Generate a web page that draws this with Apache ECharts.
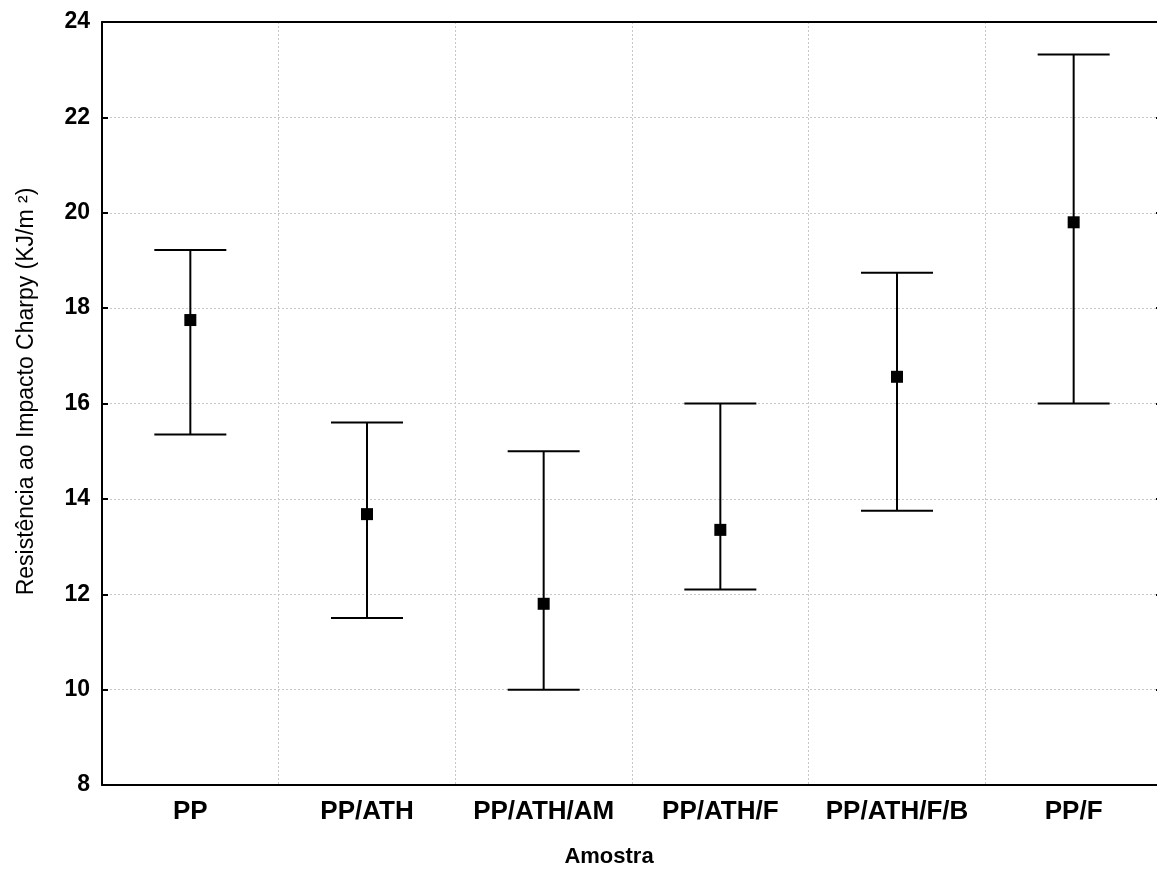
<!DOCTYPE html>
<html>
<head>
<meta charset="utf-8">
<script src="https://cdn.jsdelivr.net/npm/echarts@6/dist/echarts.min.js"></script>
<style>
  html, body { margin: 0; padding: 0; background: #fff; overflow: hidden; }
  #chart { width: 1162px; height: 873px; }
</style>
</head>
<body>
<div id="chart"></div>
<script>
var categories = ["PP", "PP/ATH", "PP/ATH/AM", "PP/ATH/F", "PP/ATH/F/B", "PP/F"];
var means = [17.75, 13.68, 11.8, 13.35, 16.56, 19.8];
var upper = [19.22, 15.6, 15.0, 16.0, 18.74, 23.32];
var lower = [15.35, 11.5, 10.0, 12.1, 13.75, 16.0];
var yTicks = [8, 10, 12, 14, 16, 18, 20, 22, 24];

var font = "'Liberation Sans', Arial, sans-serif";

var barData = categories.map(function (c, i) {
  return [i, lower[i], upper[i]];
});

// plot box runs slightly past the right edge of the 1157px window, as in the original
var chart = echarts.init(document.getElementById("chart"));
var option = {
  animation: false,
  backgroundColor: "#fff",
  grid: { left: 102, top: 22, right: 0, bottom: 88 },
  xAxis: [
    {
      type: "category",
      data: categories,
      boundaryGap: true,
      position: "bottom",
      name: "Amostra",
      nameLocation: "middle",
      nameGap: 61,
      nameTextStyle: { fontFamily: font, fontWeight: "bold", fontSize: 22, color: "#000", padding: [0, 46, 0, 0] },
      axisLine: { lineStyle: { color: "#000", width: 2 } },
      axisTick: { inside: true, length: 6, lineStyle: { color: "#000", width: 2 } },
      axisLabel: { interval: 0, fontFamily: font, fontWeight: "bold", fontSize: 26, color: "#000", margin: 14 },
      splitLine: { show: true, interval: 0, lineStyle: { color: "#c8c8c8", type: [2, 2], width: 1 } }
    },
    {
      type: "category",
      data: categories,
      boundaryGap: true,
      position: "top",
      axisLine: { lineStyle: { color: "#000", width: 2 } },
      axisTick: { inside: true, interval: 0, length: 6, lineStyle: { color: "#000", width: 2 } },
      axisLabel: { show: false },
      splitLine: { show: false }
    }
  ],
  yAxis: [
    {
      type: "value",
      min: 8,
      max: 24,
      interval: 2,
      position: "left",
      name: "Resistência ao Impacto Charpy (KJ/m ²)",
      nameLocation: "middle",
      nameGap: 64,
      nameTextStyle: { fontFamily: font, fontSize: 23, color: "#000", padding: [0, 0, 0, 24] },
      axisLine: { show: true, lineStyle: { color: "#000", width: 2 } },
      axisTick: { show: true, inside: true, length: 6, lineStyle: { color: "#000", width: 2 } },
      axisLabel: {
        fontFamily: font, fontWeight: "bold", fontSize: 23, color: "#000", margin: 12,
        formatter: function (v) { return yTicks.indexOf(v) >= 0 ? String(v) : ""; }
      },
      splitLine: { show: true, lineStyle: { color: "#c8c8c8", type: [2, 2], width: 1 } }
    },
    {
      type: "value",
      min: 8,
      max: 24,
      interval: 2,
      position: "right",
      axisLine: { show: true, lineStyle: { color: "#000", width: 2 } },
      axisTick: { show: true, inside: true, length: 6, lineStyle: { color: "#000", width: 2 } },
      axisLabel: { show: false },
      splitLine: { show: false }
    }
  ],
  series: [
    {
      type: "custom",
      data: barData,
      encode: { x: 0, y: [1, 2] },
      renderItem: function (params, api) {
        var x = api.value(0);
        var lo = api.coord([x, api.value(1)]);
        var hi = api.coord([x, api.value(2)]);
        var half = 36;
        var style = { stroke: "#000", lineWidth: 2 };
        return {
          type: "group",
          children: [
            { type: "line", shape: { x1: lo[0], y1: lo[1], x2: hi[0], y2: hi[1] }, style: style },
            { type: "line", shape: { x1: hi[0] - half, y1: hi[1], x2: hi[0] + half, y2: hi[1] }, style: style },
            { type: "line", shape: { x1: lo[0] - half, y1: lo[1], x2: lo[0] + half, y2: lo[1] }, style: style }
          ]
        };
      },
      z: 2
    },
    {
      type: "scatter",
      data: means,
      symbol: "rect",
      symbolSize: 12,
      itemStyle: { color: "#000", opacity: 1 },
      z: 3
    }
  ]
};
chart.setOption(option);
</script>
</body>
</html>
